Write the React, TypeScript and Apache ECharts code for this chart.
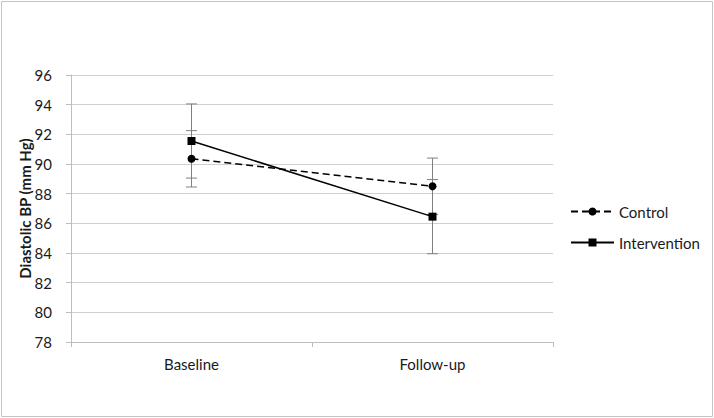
import React, { useEffect, useRef } from "react";
import * as echarts from "echarts";

const categories = ["Baseline", "Follow-up"];
const controlMeans = [90.35, 88.5];
const controlErr = [1.9, 1.9];
const interventionMeans = [91.55, 86.45];
const interventionErr = [2.5, 2.5];
const yTicks = { min: 78, max: 96, interval: 2 };

const FONT = "Lato, 'Open Sans', sans-serif";

export default function App() {
  const ref = useRef<HTMLDivElement>(null);
  useEffect(() => {
    if (!ref.current) return;
    const chart = echarts.init(ref.current, null, { renderer: "svg" });

    const errData: number[][] = [];
    categories.forEach((_, i) => {
      errData.push([i, controlMeans[i] - controlErr[i], controlMeans[i] + controlErr[i]]);
      errData.push([i, interventionMeans[i] - interventionErr[i], interventionMeans[i] + interventionErr[i]]);
    });

    chart.setOption({
      animation: false,
      textStyle: { fontFamily: FONT },
      graphic: [
        {
          type: "rect",
          shape: { x: 1.5, y: 1.5, width: 711, height: 415 },
          style: { fill: "none", stroke: "#c4c4c4", lineWidth: 1 },
          silent: true,
        },
      ],
      grid: { left: 71, right: 161, top: 75, bottom: 76 },
      legend: {
        orient: "vertical",
        left: 570,
        top: 204,
        padding: 0,
        itemWidth: 43,
        itemHeight: 10,
        itemGap: 16,
        textStyle: { fontSize: 15, color: "#1a1a1a", fontFamily: FONT },
        data: ["Control", "Intervention"],
      },
      xAxis: {
        type: "category",
        data: categories,
        boundaryGap: true,
        axisLine: { lineStyle: { color: "#bdbdbd", width: 1 } },
        axisTick: { show: true, interval: 0, length: 5, lineStyle: { color: "#bdbdbd" } },
        axisLabel: { fontSize: 15, color: "#1a1a1a", margin: 14, fontFamily: FONT },
      },
      yAxis: {
        type: "value",
        min: yTicks.min,
        max: yTicks.max,
        interval: yTicks.interval,
        name: "Diastolic BP (mm Hg)",
        nameLocation: "middle",
        nameGap: 39,
        nameMoveOverlap: false,
        nameRotate: 90,
        nameTextStyle: { fontSize: 15, fontWeight: "bold", color: "#1a1a1a", fontFamily: FONT },
        axisLine: { show: true, lineStyle: { color: "#bdbdbd", width: 1 } },
        axisTick: { show: true, length: 5, lineStyle: { color: "#bdbdbd" } },
        axisLabel: { fontSize: 15, color: "#1a1a1a", margin: 19, fontFamily: FONT },
        splitLine: { lineStyle: { color: "#d0d0d0", width: 1 } },
      },
      series: [
        {
          type: "custom",
          name: "err",
          data: errData,
          z: 1,
          renderItem: (params: any, api: any) => {
            const x = api.value(0);
            const lo = api.coord([x, api.value(1)]);
            const hi = api.coord([x, api.value(2)]);
            const half = 5.5;
            const style = { stroke: "#808080", lineWidth: 1 };
            return {
              type: "group",
              children: [
                { type: "line", shape: { x1: lo[0], y1: lo[1], x2: hi[0], y2: hi[1] }, style },
                { type: "line", shape: { x1: lo[0] - half, y1: lo[1], x2: lo[0] + half, y2: lo[1] }, style },
                { type: "line", shape: { x1: hi[0] - half, y1: hi[1], x2: hi[0] + half, y2: hi[1] }, style },
              ],
            };
          },
        },
        {
          type: "line",
          name: "Control",
          data: controlMeans,
          z: 3,
          symbol: "circle",
          symbolSize: 8,
          itemStyle: { color: "#000" },
          lineStyle: { color: "#000", width: 1.5, type: [7, 4] },
        },
        {
          type: "line",
          name: "Intervention",
          data: interventionMeans,
          z: 3,
          symbol: "rect",
          symbolSize: 8,
          itemStyle: { color: "#000" },
          lineStyle: { color: "#000", width: 1.5 },
        },
      ],
    });
    return () => chart.dispose();
  }, []);
  return (
    <div
      ref={ref}
      style={{ position: "fixed", left: 0, top: 0, width: 714, height: 418, background: "#fff" }}
    />
  );
}
